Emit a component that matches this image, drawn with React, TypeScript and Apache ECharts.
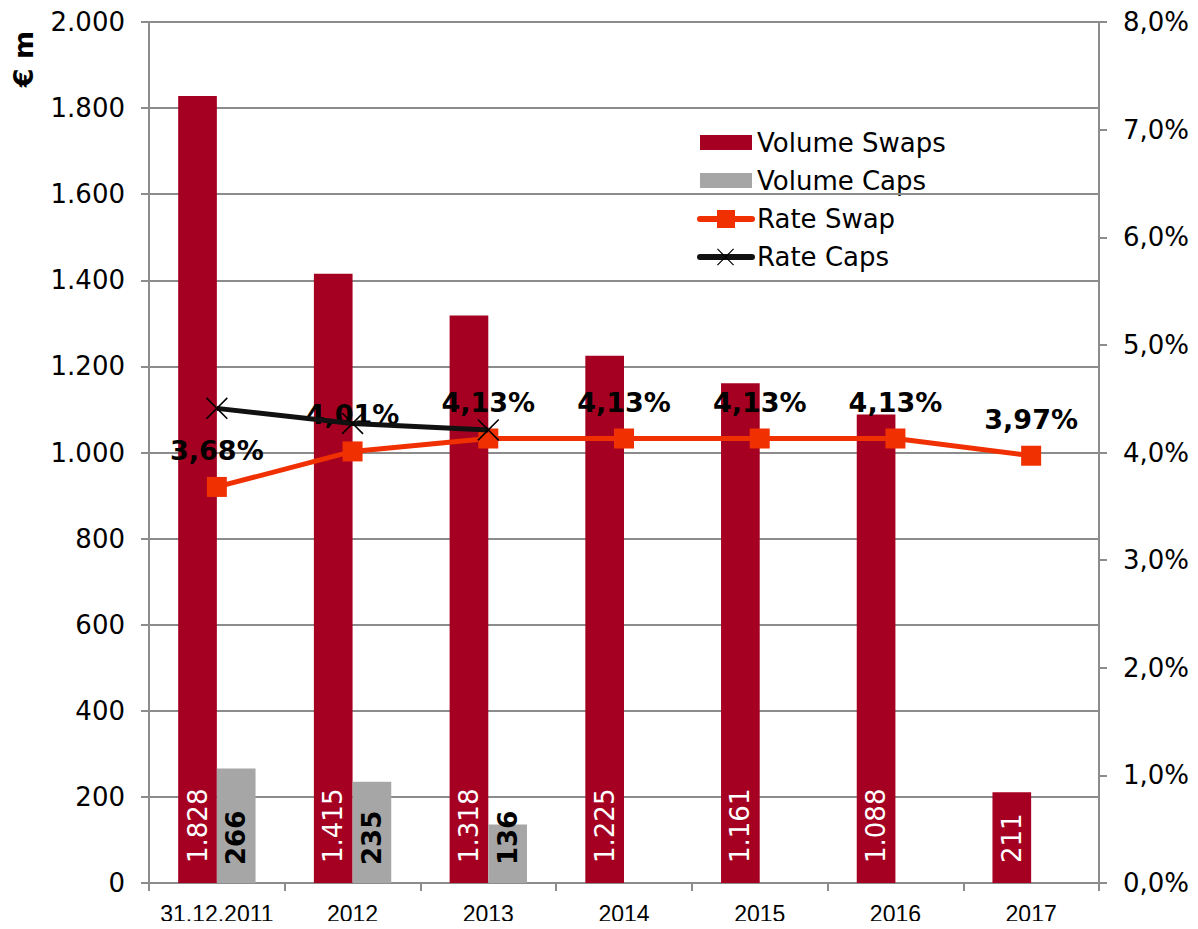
import React, { useEffect, useRef } from "react";
import * as echarts from "echarts";

const categories = ["31.12.2011", "2012", "2013", "2014", "2015", "2016", "2017"];
const volumeSwaps = [1828, 1415, 1318, 1225, 1161, 1088, 211];
const volumeCaps = [266, 235, 136, null, null, null, null];
const rateSwap = [3.68, 4.01, 4.13, 4.13, 4.13, 4.13, 3.97];
const rateCaps = [4.41, 4.27, 4.21, null, null, null, null];
const legendNames = ["Volume Swaps", "Volume Caps", "Rate Swap", "Rate Caps"];

const FONT = "DejaVu Sans";
const GRID = "#8c8c8c";
const RED = "#A50021";
const GREY = "#A6A6A6";
const ORANGE = "#F03000";
const X_SYMBOL =
  "path://M0,1L1,0L10,9L19,0L20,1L11,10L20,19L19,20L10,11L1,20L0,19L9,10Z";
const X_POINTS = [
  [0, 1], [1, 0], [10, 9], [19, 0], [20, 1], [11, 10], [20, 19], [19, 20], [10, 11], [1, 20], [0, 19], [9, 10],
];

const fmtThousands = (v: number) =>
  String(v).replace(/\B(?=(\d{3})+(?!\d))/g, ".");

function buildLegend() {
  const x0 = 700;
  const rows = [143, 181, 219, 257];
  const els: any[] = [];
  // Volume Swaps
  els.push({ type: "rect", shape: { x: x0, y: rows[0] - 8, width: 52, height: 15 }, style: { fill: RED } });
  els.push({ type: "rect", shape: { x: x0, y: rows[1] - 8, width: 52, height: 15 }, style: { fill: GREY } });
  els.push({
    type: "line",
    shape: { x1: x0, y1: rows[2], x2: x0 + 52, y2: rows[2] },
    style: { stroke: ORANGE, lineWidth: 6, lineCap: "round" },
  });
  els.push({ type: "rect", shape: { x: x0 + 17, y: rows[2] - 9, width: 18, height: 18 }, style: { fill: ORANGE } });
  els.push({
    type: "line",
    shape: { x1: x0, y1: rows[3], x2: x0 + 52, y2: rows[3] },
    style: { stroke: "#111", lineWidth: 6, lineCap: "round" },
  });
  els.push({
    type: "polygon",
    shape: { points: X_POINTS.map(([a, b]) => [x0 + 17 + a * 0.85, rows[3] - 8.5 + b * 0.85]) },
    style: { fill: "#000" },
  });
  legendNames.forEach((name, i) => {
    els.push({
      type: "text",
      x: 757,
      y: rows[i],
      style: { text: name, fontFamily: FONT, fontSize: 26, fill: "#000", verticalAlign: "middle", align: "left" },
    });
  });
  return els;
}

export default function App() {
  const ref = useRef<HTMLDivElement>(null);
  useEffect(() => {
    if (!ref.current) return;
    const chart = echarts.init(ref.current, undefined, { renderer: "svg" });
    chart.setOption({
      animation: false,
      backgroundColor: "#ffffff",
      grid: { left: 149, right: 99, top: 22, bottom: 46, containLabel: false },
      graphic: [
        {
          type: "text",
          x: 23,
          y: 59,
          rotation: Math.PI / 2,
          style: {
            text: "€ m",
            fontFamily: FONT,
            fontSize: 27,
            fontWeight: "bold",
            fill: "#000",
            align: "center",
            verticalAlign: "middle",
          },
        },
        ...buildLegend(),
      ],
      xAxis: {
        type: "category",
        data: categories,
        boundaryGap: true,
        axisLine: { lineStyle: { color: GRID, width: 2 } },
        axisTick: { show: true, length: 8, interval: 0, lineStyle: { color: GRID, width: 2 } },
        axisLabel: { interval: 0, fontFamily: "Liberation Sans", fontSize: 23, color: "#000", margin: 19 },
      },
      yAxis: [
        {
          type: "value",
          min: 0,
          max: 2000,
          interval: 200,
          axisLine: { show: true, lineStyle: { color: GRID, width: 2 } },
          axisTick: { show: true, length: 8, lineStyle: { color: GRID, width: 2 } },
          splitLine: { lineStyle: { color: GRID, width: 2 } },
          axisLabel: {
            fontFamily: FONT,
            fontSize: 26,
            color: "#000",
            margin: 24,
            formatter: (v: number) => fmtThousands(v),
          },
        },
        {
          type: "value",
          min: 0,
          max: 8,
          interval: 1,
          position: "right",
          axisLine: { show: true, lineStyle: { color: GRID, width: 2 } },
          axisTick: { show: true, length: 8, lineStyle: { color: GRID, width: 2 } },
          splitLine: { show: false },
          axisLabel: {
            fontFamily: FONT,
            fontSize: 26,
            color: "#000",
            margin: 24,
            formatter: (v: number) => v.toFixed(1).replace(".", ",") + "%",
          },
        },
      ],
      series: [
        {
          name: "Volume Swaps",
          type: "bar",
          data: volumeSwaps,
          barGap: "0%",
          barCategoryGap: "43%",
          itemStyle: { color: RED },
          label: {
            show: true,
            position: "insideBottom",
            rotate: 90,
            align: "left",
            verticalAlign: "middle",
            distance: 20,
            fontFamily: FONT,
            fontSize: 26,
            color: "#ffffff",
            formatter: (p: any) => fmtThousands(p.value),
          },
        },
        {
          name: "Volume Caps",
          type: "bar",
          data: volumeCaps,
          barGap: "0%",
          barCategoryGap: "43%",
          itemStyle: { color: GREY },
          label: {
            show: true,
            position: "insideBottom",
            rotate: 90,
            align: "left",
            verticalAlign: "middle",
            distance: 18,
            fontFamily: FONT,
            fontSize: 26,
            fontWeight: "bold",
            color: "#000000",
            formatter: (p: any) => fmtThousands(p.value),
          },
        },
        {
          name: "Rate Swap",
          type: "line",
          yAxisIndex: 1,
          data: rateSwap,
          z: 3,
          symbol: "rect",
          symbolSize: 20,
          itemStyle: { color: ORANGE },
          lineStyle: { color: ORANGE, width: 5 },
          label: {
            show: true,
            position: "top",
            distance: 13,
            fontFamily: FONT,
            fontSize: 27,
            fontWeight: "bold",
            color: "#000",
            formatter: (p: any) => p.value.toFixed(2).replace(".", ",") + "%",
          },
        },
        {
          name: "Rate Caps",
          type: "line",
          yAxisIndex: 1,
          data: rateCaps,
          z: 4,
          symbol: X_SYMBOL,
          symbolSize: 22,
          itemStyle: { color: "#000" },
          lineStyle: { color: "#111", width: 5 },
        },
      ],
    });
    return () => chart.dispose();
  }, []);
  return <div ref={ref} style={{ width: 1198, height: 929, margin: -8 }} />;
}
